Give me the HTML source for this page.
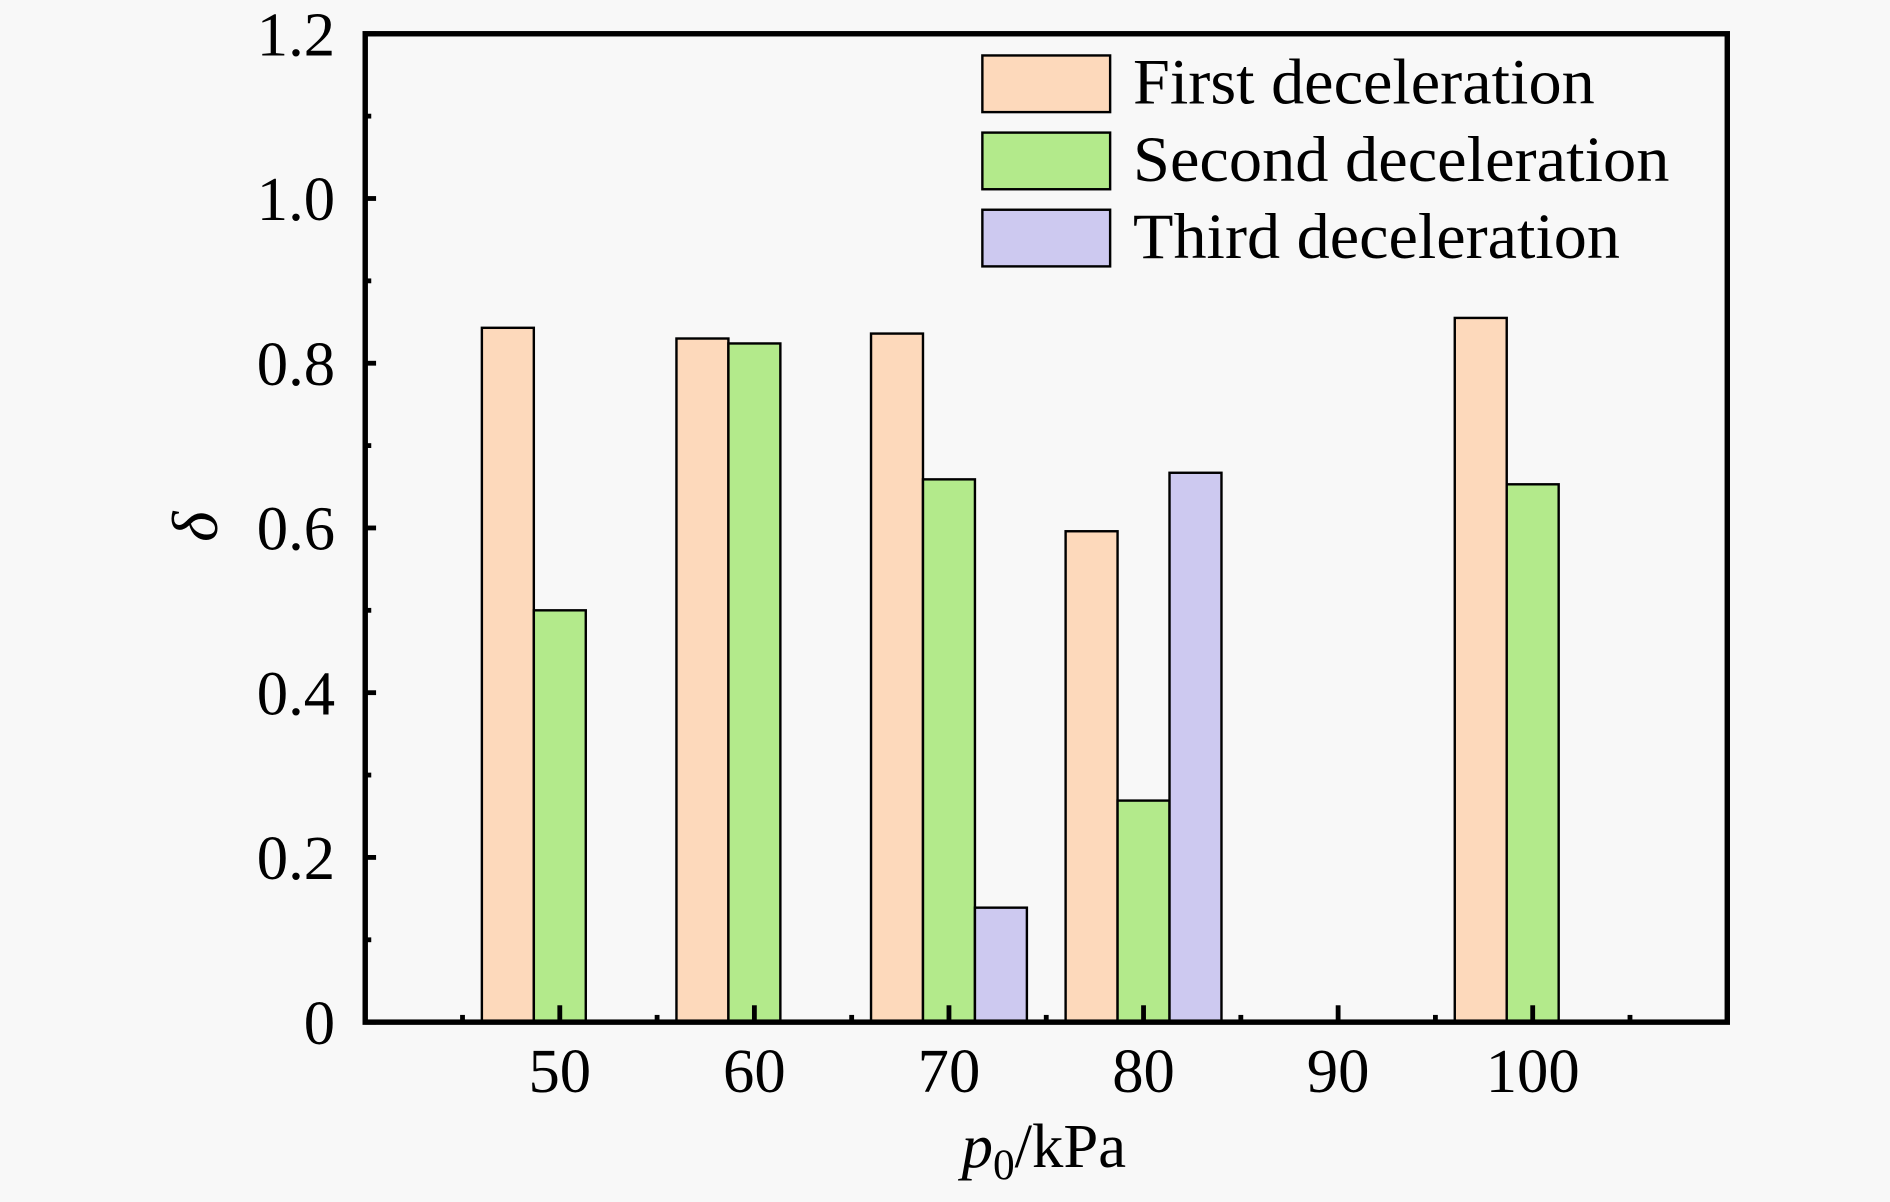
<!DOCTYPE html>
<html><head><meta charset="utf-8"><style>
html,body{margin:0;padding:0;background:#f8f8f8;}
svg{display:block;font-family:"Liberation Serif","Times New Roman",serif;}
</style></head><body>
<svg id="chart" width="1890" height="1202" viewBox="0 0 1568 997.2" xmlns="http://www.w3.org/2000/svg">
<rect x="0" y="0" width="1568" height="998" fill="#f8f8f8"/>
<g id="bars"></g>
<g id="axes"></g>
<g id="legend"></g>
<text transform="translate(180,437) rotate(-90)" text-anchor="middle" font-size="54" font-style="italic">δ</text>
<text x="866" y="968" text-anchor="middle" font-size="52"><tspan font-style="italic">p</tspan><tspan font-size="36" dy="10">0</tspan><tspan dy="-10">/kPa</tspan></text>
</svg>
<script>
const categories = [50, 60, 70, 80, 90, 100];
const firstDecel = [0.843, 0.83, 0.836, 0.596, null, 0.855];
const secondDecel = [0.5, 0.824, 0.659, 0.269, null, 0.653];
const thirdDecel = [null, null, 0.139, 0.667, null, null];
const seriesNames = ["First deceleration", "Second deceleration", "Third deceleration"];
const yTicks = [0, 0.2, 0.4, 0.6, 0.8, 1.0, 1.2];
const yTickLabels = ["0", "0.2", "0.4", "0.6", "0.8", "1.0", "1.2"];

const NS = "http://www.w3.org/2000/svg";
const L = 303, R = 1433, T = 28, B = 848;
const xMin = 40, xMax = 110, yMax = 1.2;
const xs = v => L + (v - xMin) / (xMax - xMin) * (R - L);
const ys = v => B - v / yMax * (B - T);
const catW = xs(60) - xs(50);
const barW = catW * 0.267;
const colors = ["#fdd9bb", "#b3ea8b", "#cdc9f0"];
const series = [firstDecel, secondDecel, thirdDecel];
function mk(tag, attrs, parent) { const e = document.createElementNS(NS, tag); for (const k in attrs) e.setAttribute(k, attrs[k]); parent.appendChild(e); return e; }

const gb = document.getElementById("bars");
series.forEach((s, si) => {
  s.forEach((v, ci) => {
    if (v === null) return;
    const cx = xs(categories[ci]);
    const x0 = cx + (si - 1.5) * barW;
    const r = mk("rect", { x: x0, y: ys(v), width: barW, height: ys(0) - ys(v), fill: colors[si], stroke: "#000", "stroke-width": 2 }, gb);
    
    
  });
});

const ga = document.getElementById("axes");
const frame = mk("rect", { x: L, y: T, width: R - L, height: B - T, fill: "none", stroke: "#000", "stroke-width": 4.5 }, ga);


yTicks.forEach((v, i) => {
  mk("line", { x1: L, x2: L + 9, y1: ys(v), y2: ys(v), stroke: "#000", "stroke-width": 4 }, ga);
  if (i < yTicks.length - 1) mk("line", { x1: L, x2: L + 5, y1: ys(v + 0.1), y2: ys(v + 0.1), stroke: "#000", "stroke-width": 4 }, ga);
  const t = mk("text", { x: 278, y: ys(v) + 18, "text-anchor": "end", "font-size": 52 }, ga);
  t.textContent = yTickLabels[i];
  
  
});
categories.forEach(c => {
  mk("line", { x1: xs(c), x2: xs(c), y1: B, y2: B - 14, stroke: "#000", "stroke-width": 4 }, ga);
  mk("line", { x1: xs(c - 5), x2: xs(c - 5), y1: B, y2: B - 6, stroke: "#000", "stroke-width": 4 }, ga);
  const t = mk("text", { x: xs(c), y: 906, "text-anchor": "middle", "font-size": 52 }, ga);
  t.textContent = String(c);
  
  
});
mk("line", { x1: xs(105), x2: xs(105), y1: B, y2: B - 6, stroke: "#000", "stroke-width": 4 }, ga);

const gl = document.getElementById("legend");
const lens = [383, 445, 404];
seriesNames.forEach((n, i) => {
  const y0 = 46 + i * 64;
  const r = mk("rect", { x: 815, y: y0, width: 106, height: 47, fill: colors[i], stroke: "#000", "stroke-width": 2 }, gl);
  
  
  const t = mk("text", { x: 940, y: y0 + 40, "font-size": 54, textLength: lens[i], lengthAdjust: "spacingAndGlyphs" }, gl);
  t.textContent = n;
  
  
});
</script>
</body></html>
